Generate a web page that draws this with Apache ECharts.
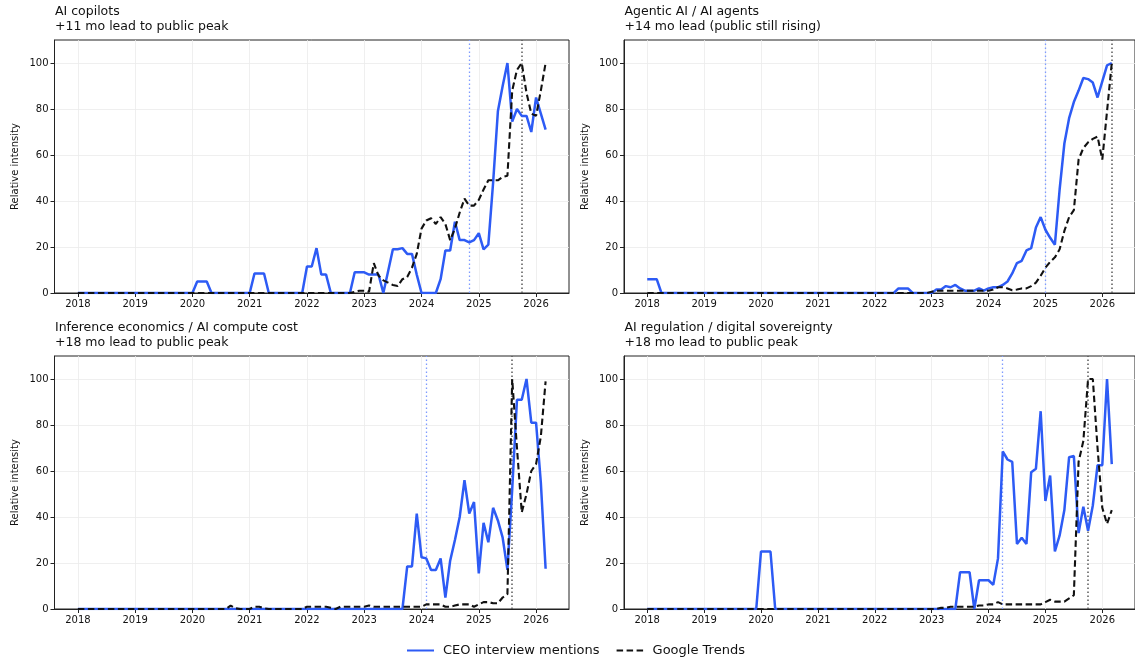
<!DOCTYPE html>
<html>
<head>
<meta charset="utf-8">
<script src="https://cdn.jsdelivr.net/npm/echarts@6/dist/echarts.min.js"></script>
<style>
  html, body { margin: 0; padding: 0; background: #ffffff; }
  #chart { width: 1135px; height: 662px; }
</style>
</head>
<body>
<div id="chart"></div>
<script>
// ---------------- DATA ----------------
const startMonth = '2018-01';           // first monthly observation
const yearTicks = [2018, 2019, 2020, 2021, 2022, 2023, 2024, 2025, 2026];
const yTicks = [0, 20, 40, 60, 80, 100];

const panelTitles = [
  'AI copilots\n+11 mo lead to public peak',
  'Agentic AI / AI agents\n+14 mo lead (public still rising)',
  'Inference economics / AI compute cost\n+18 mo lead to public peak',
  'AI regulation / digital sovereignty\n+18 mo lead to public peak'
];
const seriesNames = ['CEO interview mentions', 'Google Trends'];

// Panel 1: AI copilots (monthly, 2018-01 .. 2026-03)
const copilotsCeo = [
  0, 0, 0, 0, 0, 0, 0, 0, 0, 0, 0, 0,
  0, 0, 0, 0, 0, 0, 0, 0, 0, 0, 0, 0,
  0, 5, 5, 5, 0, 0, 0, 0, 0, 0, 0, 0,
  0, 8.5, 8.5, 8.5, 0, 0, 0, 0, 0, 0, 0, 0,
  11.5, 11.5, 19.5, 8, 8, 0, 0, 0, 0, 0, 9, 9,
  9, 8, 8, 8, 0, 9.5, 19, 19, 19.5, 17, 17, 8,
  0, 0, 0, 0, 6, 18.5, 18.5, 31, 23, 23, 22, 23,
  26, 19, 21, 48, 79, 90, 100, 74.5, 80, 77, 77, 70,
  85, 78, 71
];
const copilotsTrends = [
  0, 0, 0, 0, 0, 0, 0, 0, 0, 0, 0, 0,
  0, 0, 0, 0, 0, 0, 0, 0, 0, 0, 0, 0,
  0, 0, 0, 0, 0, 0, 0, 0, 0, 0, 0, 0,
  0, 0, 0, 0, 0, 0, 0, 0, 0, 0, 0, 0,
  0, 0, 0, 0, 0, 0, 0, 0, 0, 0, 0.5, 1,
  1, 0.5, 13, 7.5, 5.5, 4.5, 3.5, 3, 6, 7, 11, 17,
  28, 31.5, 32.5, 30, 33, 30, 23, 28, 35, 41, 38, 38,
  40.5, 45, 49, 49, 49, 50.5, 51, 88, 97, 100, 87, 78,
  77, 88, 100
];

// Panel 2: Agentic AI / AI agents
const agenticCeo = [
  6, 6, 6, 0, 0, 0, 0, 0, 0, 0, 0, 0,
  0, 0, 0, 0, 0, 0, 0, 0, 0, 0, 0, 0,
  0, 0, 0, 0, 0, 0, 0, 0, 0, 0, 0, 0,
  0, 0, 0, 0, 0, 0, 0, 0, 0, 0, 0, 0,
  0, 0, 0, 0, 0, 2, 2, 2, 0, 0, 0, 0,
  0, 1.5, 1.5, 3, 2.5, 3.5, 2, 1, 1, 1, 2, 1,
  2, 2.5, 2.5, 3.5, 5, 8.5, 13, 14, 18.5, 19.5, 28.5, 33,
  27.5, 24, 21, 45, 65, 76, 83, 88, 93.5, 93, 91.5, 85,
  92, 99, 100
];
const agenticTrends = [
  0, 0, 0, 0, 0, 0, 0, 0, 0, 0, 0, 0,
  0, 0, 0, 0, 0, 0, 0, 0, 0, 0, 0, 0,
  0, 0, 0, 0, 0, 0, 0, 0, 0, 0, 0, 0,
  0, 0, 0, 0, 0, 0, 0, 0, 0, 0, 0, 0,
  0, 0, 0, 0, 0, 0, 0, 0, 0, 0, 0, 0,
  0.5, 1, 1, 1, 1, 1, 1, 1, 1, 1, 1, 1,
  1, 1.5, 2.5, 2.5, 2, 1.2, 1.5, 2, 2, 3, 4.5, 7.5,
  11, 13.5, 15.5, 19, 27, 33, 36, 58, 63, 65.5, 67, 68,
  58, 79, 100
];

// Panel 3: Inference economics / AI compute cost
const inferenceCeo = [
  0, 0, 0, 0, 0, 0, 0, 0, 0, 0, 0, 0,
  0, 0, 0, 0, 0, 0, 0, 0, 0, 0, 0, 0,
  0, 0, 0, 0, 0, 0, 0, 0, 0, 0, 0, 0,
  0, 0, 0, 0, 0, 0, 0, 0, 0, 0, 0, 0,
  0, 0, 0, 0, 0, 0, 0, 0, 0, 0, 0, 0,
  0, 0, 0, 0, 0, 0, 0, 0, 0, 18.5, 18.5, 41.5,
  22.5, 22, 17, 17, 22, 5, 21, 30, 40, 56, 41.5, 46.5,
  15.5, 37.5, 29, 44, 38.5, 31, 17, 52, 91, 91, 100, 81,
  81, 55, 17.5
];
const inferenceTrends = [
  0, 0, 0, 0, 0, 0, 0, 0, 0, 0, 0, 0,
  0, 0, 0, 0, 0, 0, 0, 0, 0, 0, 0, 0,
  0, 0, 0, 0, 0, 0, 0, 0, 1.5, 0.3, 0, 0,
  0, 1, 1, 0.3, 0, 0, 0, 0, 0, 0, 0, 0,
  1, 1, 1, 1, 1, 0.5, 0, 1, 1, 1, 1, 1,
  1, 1.5, 1, 1, 1, 1, 1, 1, 1, 1, 1, 1,
  1, 2, 2, 2, 2, 1, 1, 1.5, 2, 2, 2, 1,
  2, 3, 3, 2.5, 2.5, 5, 6.5, 100, 70, 42, 50, 60,
  63, 75, 99
];

// Panel 4: AI regulation / digital sovereignty
const regulationCeo = [
  0, 0, 0, 0, 0, 0, 0, 0, 0, 0, 0, 0,
  0, 0, 0, 0, 0, 0, 0, 0, 0, 0, 0, 0,
  25, 25, 25, 0, 0, 0, 0, 0, 0, 0, 0, 0,
  0, 0, 0, 0, 0, 0, 0, 0, 0, 0, 0, 0,
  0, 0, 0, 0, 0, 0, 0, 0, 0, 0, 0, 0,
  0, 0, 0, 0, 0, 0, 16, 16, 16, 0, 12.5, 12.5,
  12.5, 10.5, 22, 68.5, 65, 64, 28.3, 31, 28.3, 59.5, 61, 86,
  47, 58, 25, 32, 43, 66, 66.5, 33, 44.5, 34, 45, 62.5,
  62.5, 100, 63
];
const regulationTrends = [
  0, 0, 0, 0, 0, 0, 0, 0, 0, 0, 0, 0,
  0, 0, 0, 0, 0, 0, 0, 0, 0, 0, 0, 0,
  0, 0, 0, 0, 0, 0, 0, 0, 0, 0, 0, 0,
  0, 0, 0, 0, 0, 0, 0, 0, 0, 0, 0, 0,
  0, 0, 0, 0, 0, 0, 0, 0, 0, 0, 0, 0,
  0, 0, 0.5, 0.5, 1, 1, 1, 1, 1, 1, 1.5, 1.5,
  2, 2, 3, 2, 2, 2, 2, 2, 2, 2, 2, 2,
  3, 4, 3.2, 3.2, 3.2, 4.6, 6, 64, 73, 100, 100, 70,
  44, 37, 43
];

// Reference markers (month of CEO signal / month of public peak)
const ceoMarks = ['2024-11', '2025-01', '2024-02', '2024-04'];
const publicMarks = ['2025-10', '2026-03', '2025-08', '2025-10'];

// ---------------- CHART ----------------
const ceoSeries = [copilotsCeo, agenticCeo, inferenceCeo, regulationCeo];
const trendSeries = [copilotsTrends, agenticTrends, inferenceTrends, regulationTrends];

function ym(s) { const p = s.split('-').map(Number); return p[0] + (p[1] - 1) / 12; }
const x0 = ym(startMonth);
function pts(arr) { return arr.map((v, i) => [x0 + i / 12, v]); }

const nPts = copilotsCeo.length;
const xFirst = x0, xLast = x0 + (nPts - 1) / 12;
const pad = (xLast - xFirst) * 0.05;
const xMin = xFirst - pad, xMax = xLast + pad;

const FONT = 'DejaVu Sans';
const gridBoxes = [
  { left: 54.5, top: 40, width: 514.5, height: 253 },
  { left: 624, top: 40, width: 517, height: 253 },
  { left: 54.5, top: 356, width: 514.5, height: 253 },
  { left: 624, top: 356, width: 517, height: 253 }
];
const titleTops = [4.5, 4.5, 320.5, 320.5];

const option = {
  animation: false,
  backgroundColor: '#ffffff',
  textStyle: { fontFamily: FONT },
  title: panelTitles.map((t, k) => ({
    text: t,
    left: gridBoxes[k].left + 0.5,
    top: titleTops[k],
    padding: 0,
    textStyle: { fontFamily: FONT, fontSize: 12.5, fontWeight: 'normal', color: '#111', lineHeight: 14.5 }
  })),
  legend: {
    data: seriesNames,
    left: 406,
    top: 644,
    padding: 0,
    itemWidth: 27,
    itemHeight: 14,
    itemGap: 16,
    itemStyle: { opacity: 0 },
    textStyle: { fontFamily: FONT, fontSize: 13, color: '#111', padding: [0, 0, 0, 4] }
  },
  grid: gridBoxes.map(g => Object.assign({ show: true, borderColor: '#222', borderWidth: 1, containLabel: false }, g)),
  xAxis: gridBoxes.map((g, k) => ({
    type: 'value', gridIndex: k, min: xMin, max: xMax,
    axisLine: { show: true, onZero: false, lineStyle: { color: '#222', width: 1 } },
    axisTick: { show: true, length: 4, customValues: yearTicks, lineStyle: { color: '#222' } },
    axisLabel: { customValues: yearTicks, fontFamily: FONT, fontSize: 10, color: '#111', margin: 6,
                 formatter: v => String(Math.round(v)) },
    splitLine: { show: true, lineStyle: { color: '#ebebeb', width: 0.8 } }
  })),
  yAxis: gridBoxes.map((g, k) => ({
    type: 'value', gridIndex: k, min: 0, max: 110,
    name: 'Relative intensity', nameLocation: 'middle', nameGap: 34,
    nameTextStyle: { fontFamily: FONT, fontSize: 10, color: '#111' },
    axisLine: { show: true, lineStyle: { color: '#222', width: 1 } },
    axisTick: { show: true, length: 4, customValues: yTicks, lineStyle: { color: '#222' } },
    axisLabel: { customValues: yTicks, fontFamily: FONT, fontSize: 10, color: '#111', margin: 6 },
    splitLine: { show: true, lineStyle: { color: '#ebebeb', width: 0.8 } }
  })),
  series: []
};

for (let k = 0; k < 4; k++) {
  option.series.push({
    name: seriesNames[0], type: 'line', xAxisIndex: k, yAxisIndex: k,
    data: pts(ceoSeries[k]), symbol: 'none', showSymbol: false, z: 3,
    lineStyle: { color: '#2d5bf5', width: 2.5 }, itemStyle: { color: '#2d5bf5' },
    markLine: {
      silent: true, symbol: 'none', z: 1, animation: false,
      label: { show: false },
      data: [
        { xAxis: ym(ceoMarks[k]), lineStyle: { color: '#7f9bff', width: 1.3, type: [1.5, 2.5] } },
        { xAxis: ym(publicMarks[k]), lineStyle: { color: '#5a5a5a', width: 1.5, type: [1.5, 2.5] } }
      ]
    }
  });
  option.series.push({
    name: seriesNames[1], type: 'line', xAxisIndex: k, yAxisIndex: k,
    data: pts(trendSeries[k]), symbol: 'none', showSymbol: false, z: 4,
    lineStyle: { color: '#111111', width: 2.1, type: [6.5, 3.5] }, itemStyle: { color: '#111111' }
  });
}

const chart = echarts.init(document.getElementById('chart'), null, { renderer: 'canvas' });
chart.setOption(option);
</script>
</body>
</html>
